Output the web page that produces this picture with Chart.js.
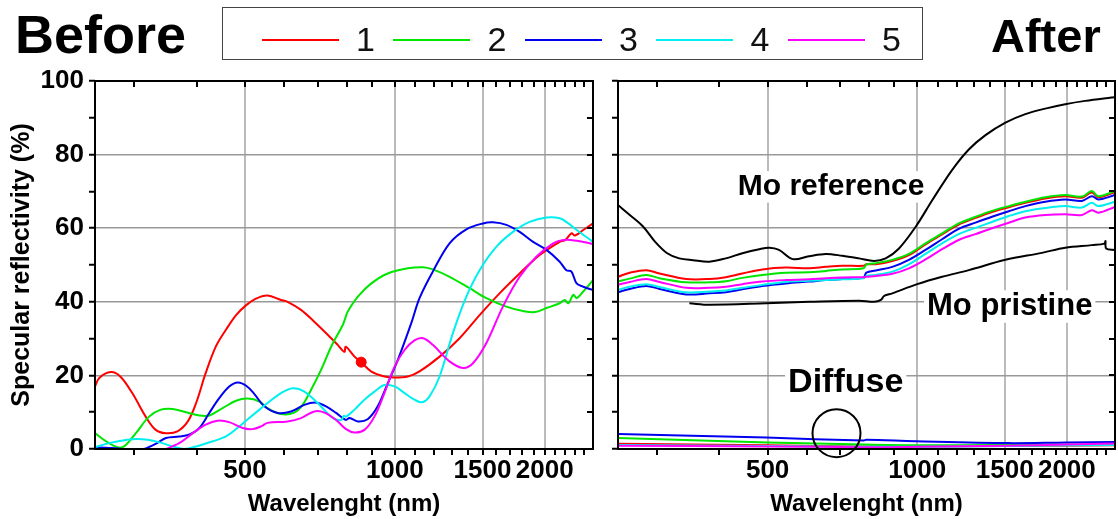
<!DOCTYPE html>
<html>
<head>
<meta charset="utf-8">
<script src="https://cdn.jsdelivr.net/npm/chart.js@4.4.1/dist/chart.umd.min.js"></script>
<style>
  body { margin: 0; background: #fff; }
  #wrap { position: relative; width: 1118px; height: 519px; font-family: "Liberation Sans", Arial, sans-serif; color: #000; }
  canvas { position: absolute; top: 0; }
  .panel-title { position: absolute; font-weight: bold; }
  #legend { position: absolute; left: 222px; top: 7px; width: 701px; height: 53px; box-sizing: border-box; border: 1.5px solid #444; }
  #legend .swatch { position: absolute; top: 31px; width: 77px; height: 2px; }
  #legend .label { position: absolute; top: 14px; width: 30px; text-align: center; font-size: 34px; line-height: 34px; color: #111; }
</style>
</head>
<body>
<div id="wrap">
  <canvas id="before" width="606" height="519" style="left:0"></canvas>
  <canvas id="after" width="512" height="519" style="left:606px"></canvas>
  <div class="panel-title" style="left:15px;top:7px;font-size:54px;line-height:54px">Before</div>
  <div class="panel-title" style="left:991px;top:12px;font-size:47px;line-height:47px">After</div>
  <div id="legend"></div>
</div>
<script>
// sample names and colours
const seriesLabels = ['1', '2', '3', '4', '5'];
const seriesColors = ['#ff0000', '#00e600', '#0000ee', '#00f0f0', '#ff00ff'];

// axis ticks (wavelength in nm, reflectivity in %)
const xTicks = [300, 400, 500, 600, 700, 800, 900, 1000, 1100, 1200, 1300, 1400, 1500, 1600, 1700, 1800, 1900, 2000, 2100, 2200, 2300, 2400];
const xLabelled = [500, 1000, 1500, 2000];
const yTicks = [0, 10, 20, 30, 40, 50, 60, 70, 80, 90, 100];
const yLabelled = [0, 20, 40, 60, 80, 100];

// Before: [wavelength, specular reflectivity]
const before1 = [[250,17.0],[255,19.3],[269,20.9],[281,19.7],[297,15.2],[316,8.8],[331,5.2],[347,4.3],[366,4.8],[384,7.5],[399,12.5],[417,20.6],[437,27.8],[458,32.4],[480,36.4],[503,39.1],[525,40.8],[555,41.7],[591,40.5],[609,40.0],[648,37.8],[689,34.6],[734,31.0],[768,28.3],[792,26.4],[797,27.8],[830,25.1],[856,23.6],[896,21.1],[953,19.7],[999,19.4],[1062,19.7],[1121,21.1],[1230,25.1],[1349,30.1],[1480,36.4],[1623,42.3],[1781,47.7],[1954,52.7],[2143,56.3],[2200,56.8],[2263,58.6],[2300,58.0],[2390,59.5],[2500,61.3]];
const before2 = [[250,4.3],[263,2.1],[277,0.5],[286,0.7],[302,4.3],[321,8.8],[339,10.7],[358,10.9],[381,10.0],[405,9.1],[424,9.1],[451,11.1],[480,13.1],[506,13.7],[535,12.9],[555,11.1],[591,9.5],[628,9.9],[653,12.0],[679,16.1],[711,21.5],[745,27.8],[786,33.7],[795,35.5],[804,37.3],[843,41.4],[897,45.0],[968,47.7],[1062,49.1],[1140,49.4],[1192,48.8],[1288,46.8],[1413,43.7],[1527,41.0],[1675,38.7],[1809,37.5],[1911,37.2],[2016,38.3],[2143,39.6],[2195,40.5],[2231,39.6],[2282,41.9],[2318,41.0],[2390,42.8],[2500,45.9]];
const before3 = [[250,0.5],[267,0.3],[284,0],[300,-0.6],[314,0],[331,1.4],[347,3.0],[369,3.4],[386,3.9],[405,5.7],[424,9.8],[444,13.8],[465,17.0],[484,18.1],[503,17.2],[522,15.0],[547,11.6],[582,9.8],[619,10.2],[658,12.0],[695,12.6],[728,11.6],[762,9.8],[786,8.4],[798,7.9],[811,8.4],[843,7.5],[882,8.1],[924,11.6],[968,17.9],[1014,24.2],[1079,34.2],[1121,41.0],[1192,48.2],[1288,55.9],[1392,59.7],[1503,61.3],[1574,61.6],[1675,60.9],[1781,59.0],[1895,56.3],[2016,54.1],[2143,50.9],[2210,48.6],[2263,48.2],[2318,45.0],[2390,44.1],[2500,43.2]];
const before4 = [[250,0.5],[267,1.6],[284,2.3],[302,2.7],[319,2.5],[337,1.8],[358,0.7],[378,0],[399,0.7],[431,2.1],[458,3.4],[487,6.1],[510,8.4],[535,10.7],[555,12.5],[591,15.2],[624,16.5],[658,15.6],[700,12.5],[745,8.8],[780,7.8],[790,9.0],[798,8.8],[830,10.7],[869,13.4],[910,15.6],[953,17.4],[999,17.0],[1046,15.2],[1095,13.4],[1135,12.7],[1174,14.3],[1230,19.7],[1308,31.5],[1392,41.4],[1480,48.6],[1600,55.0],[1727,59.0],[1865,61.7],[2016,62.9],[2143,62.7],[2231,61.3],[2318,59.5],[2500,56.3]];
const before5 = [[340,-0.5],[369,1.6],[393,4.3],[417,6.6],[441,7.7],[465,7.3],[495,5.7],[518,5.4],[540,6.2],[555,7.1],[609,7.5],[648,8.4],[689,10.2],[722,9.9],[762,7.9],[798,5.4],[830,4.5],[869,5.2],[910,8.8],[953,15.2],[999,22.4],[1046,26.9],[1095,29.5],[1140,30.1],[1192,28.3],[1288,23.8],[1370,22.0],[1435,23.3],[1527,28.8],[1648,38.7],[1781,46.8],[1926,52.3],[2080,55.9],[2180,56.8],[2318,56.6],[2500,55.7]];
const beforeMarker = [[856,23.6]];

// After: specular
const after1 = [[250,46.8],[264,47.9],[285,48.6],[303,47.7],[343,46.2],[382,46.2],[412,46.7],[445,47.7],[488,48.8],[544,49.3],[606,49.1],[655,49.5],[707,49.8],[780,49.8],[790,50.2],[825,50.2],[891,51.1],[962,52.7],[1039,55.6],[1122,58.3],[1212,61.0],[1310,62.8],[1414,64.4],[1528,65.7],[1650,66.9],[1810,68.1],[1985,68.7],[2145,68.3],[2245,69.7],[2315,68.4],[2500,69.8]];
const after2 = [[250,45.5],[264,46.3],[285,47.3],[303,46.4],[343,45.3],[382,45.3],[412,45.6],[445,46.5],[488,47.3],[544,47.9],[606,48.0],[655,48.4],[707,48.8],[780,49.1],[790,50.1],[825,50.5],[891,51.4],[962,53.0],[1039,55.9],[1122,58.6],[1212,61.3],[1310,63.1],[1414,64.7],[1528,66.0],[1650,67.2],[1810,68.4],[1985,69.0],[2145,68.6],[2245,70.1],[2315,68.7],[2500,70.1]];
const after3 = [[250,42.6],[264,43.5],[285,44.3],[303,43.5],[343,42.0],[382,42.3],[412,42.6],[445,43.4],[488,44.3],[544,45.0],[606,45.5],[655,45.9],[707,46.2],[780,46.6],[790,47.9],[825,48.5],[891,49.5],[962,51.4],[1039,54.1],[1122,57.0],[1212,59.8],[1310,61.5],[1414,63.1],[1528,64.6],[1650,66.0],[1810,67.2],[1985,67.8],[2145,67.4],[2245,68.7],[2315,67.8],[2500,69.0]];
const after4 = [[250,43.2],[264,44.1],[285,44.8],[303,44.0],[343,42.6],[382,42.8],[412,43.1],[445,43.8],[488,44.6],[544,45.4],[606,45.7],[655,45.9],[707,46.1],[780,46.4],[790,47.0],[825,47.3],[891,48.2],[962,50.2],[1039,53.0],[1122,55.9],[1212,58.4],[1310,60.1],[1414,61.7],[1528,63.3],[1650,64.6],[1810,65.5],[1985,66.0],[2145,65.6],[2245,66.9],[2315,66.0],[2500,67.2]];
const after5 = [[250,44.6],[264,45.4],[285,46.2],[303,45.4],[343,43.8],[382,43.8],[412,44.1],[445,44.8],[488,45.5],[544,45.9],[606,46.1],[655,46.4],[707,46.6],[780,46.7],[790,46.8],[825,47.0],[891,47.6],[962,49.1],[1039,51.5],[1122,54.3],[1212,56.8],[1310,58.4],[1414,60.0],[1528,61.5],[1650,62.9],[1810,63.6],[1985,63.8],[2145,63.6],[2245,64.9],[2315,64.2],[2500,65.8]];

// After: diffuse
const diffuse1 = [[250,1.4],[500,1.0],[780,0.7],[1000,0.7],[1500,0.8],[2500,1.0]];
const diffuse2 = [[250,3.0],[500,1.8],[780,1.2],[1000,1.0],[1500,1.1],[2500,1.2]];
const diffuse3 = [[250,4.1],[497,3.1],[780,2.3],[790,2.5],[993,2.1],[1528,1.6],[2000,1.8],[2500,1.9]];
const diffuse4 = [[250,1.1],[500,0.8],[780,0.6],[1000,0.6],[1500,0.8],[2500,1.1]];
const diffuse5 = [[250,0.9],[500,0.7],[780,0.5],[1000,0.6],[1500,0.9],[2000,1.2],[2500,1.5]];

// Mo references
const moReference = [[250,66.3],[264,63.6],[281,60.4],[297,56.3],[314,53.2],[332,51.8],[354,51.3],[382,50.9],[412,51.8],[445,53.2],[481,54.3],[504,54.7],[527,54.1],[562,51.6],[606,52.4],[655,53.0],[707,52.5],[764,51.8],[819,51.1],[864,51.8],[919,54.5],[993,60.4],[1072,67.6],[1175,75.8],[1270,81.4],[1372,85.3],[1505,88.7],[1650,91.0],[1810,92.5],[1985,93.7],[2178,94.6],[2460,95.5],[2500,95.6]];
const moPristine = [[348,39.6],[382,39.2],[497,39.6],[606,40.0],[764,40.3],[819,40.0],[845,40.5],[858,41.6],[891,42.3],[1000,44.8],[1122,46.8],[1270,48.6],[1505,51.4],[1782,53.3],[1985,54.7],[2245,55.4],[2380,55.8],[2392,56.5],[2400,54.5],[2500,54.1]];

// annotations of the After panel, placed in data units
const notes = [
  { text: 'Mo reference', at: [671, 69.0], size: 30 },
  { text: 'Mo pristine', at: [1535, 36.4], size: 31 },
  { text: 'Diffuse', at: [718, 15.5], size: 34 },
];
const ring = { at: [688, 4.3], radius: 24 };

const FONT = '"Liberation Sans", Arial, sans-serif';
Chart.defaults.font.family = FONT;
Chart.defaults.color = '#000';

const pts = arr => arr.map(([x, y]) => ({ x, y }));

const line = (data, color, i) => ({
  data: pts(data),
  borderColor: color,
  backgroundColor: color,
  borderWidth: 2,
  pointRadius: 0,
  tension: 0.35,
  order: -i,
});

// legend, shared by both panels
const legend = document.getElementById('legend');
seriesLabels.forEach((lab, i) => {
  const left = 38.5 + i * 131.5;
  const sw = document.createElement('div');
  sw.className = 'swatch';
  sw.style.left = left + 'px';
  sw.style.background = seriesColors[i];
  const tx = document.createElement('div');
  tx.className = 'label';
  tx.style.left = (left + 77 + 12) + 'px';
  tx.textContent = lab;
  legend.appendChild(sw);
  legend.appendChild(tx);
});

// box around the plot, with inward ticks on top and right
const frame = {
  id: 'frame',
  afterDraw(chart) {
    const { ctx, chartArea: a, scales: { x, y } } = chart;
    ctx.save();
    ctx.strokeStyle = '#000';
    ctx.lineWidth = 2;
    ctx.beginPath();
    x.ticks.forEach(t => {
      const px = Math.round(x.getPixelForValue(t.value));
      ctx.moveTo(px, a.top);
      ctx.lineTo(px, a.top + 6);
    });
    y.ticks.forEach(t => {
      const py = Math.round(y.getPixelForValue(t.value));
      ctx.moveTo(a.right, py);
      ctx.lineTo(a.right - 6, py);
    });
    ctx.stroke();
    ctx.strokeRect(a.left, a.top, a.right - a.left, a.bottom - a.top);
    ctx.restore();
  }
};

const annotate = {
  id: 'annotate',
  beforeDatasetsDraw(chart) {
    const { ctx, scales: { x, y } } = chart;
    ctx.save();
    notes.forEach(n => {
      ctx.font = `bold ${n.size}px ${FONT}`;
      ctx.textAlign = 'center';
      ctx.textBaseline = 'alphabetic';
      const px = x.getPixelForValue(n.at[0]);
      const py = y.getPixelForValue(n.at[1]);
      const w = ctx.measureText(n.text).width;
      ctx.fillStyle = '#fff';
      ctx.fillRect(px - w / 2 - 3, py - n.size * 0.8, w + 6, n.size * 1.05);
      ctx.fillStyle = '#000';
      ctx.fillText(n.text, px, py);
    });
    ctx.restore();
  },
  afterDatasetsDraw(chart) {
    const { ctx, scales: { x, y } } = chart;
    ctx.save();
    ctx.strokeStyle = '#000';
    ctx.lineWidth = 2;
    ctx.beginPath();
    ctx.arc(x.getPixelForValue(ring.at[0]), y.getPixelForValue(ring.at[1]), ring.radius, 0, Math.PI * 2);
    ctx.stroke();
    ctx.restore();
  }
};

function scales(showYLabels, yWidth) {
  return {
    x: {
      type: 'logarithmic',
      min: 250,
      max: 2500,
      afterBuildTicks: s => { s.ticks = xTicks.map(v => ({ value: v })); },
      afterFit: s => { s.height = 70; },
      border: { display: false },
      grid: {
        color: c => (c.tick && xLabelled.includes(c.tick.value)) ? '#bbbbbb' : 'rgba(0,0,0,0)',
        lineWidth: 2,
        tickColor: '#000',
        tickLength: 6,
        tickWidth: 2,
      },
      ticks: {
        autoSkip: false,
        maxRotation: 0,
        padding: 0,
        font: { size: 26, weight: 'bold' },
        callback: v => xLabelled.includes(v) ? String(v) : '',
      },
      title: {
        display: true,
        text: 'Wavelenght (nm)',
        font: { size: 24, weight: 'bold', lineHeight: 1.2 },
        padding: { top: 0, bottom: 0 },
      },
    },
    y: {
      min: 0,
      max: 100,
      afterBuildTicks: s => { s.ticks = yTicks.map(v => ({ value: v })); },
      afterFit: s => { s.width = yWidth; },
      border: { display: false },
      grid: {
        color: c => (c.tick && c.tick.value > 0 && c.tick.value < 100 && yLabelled.includes(c.tick.value)) ? '#999999' : 'rgba(0,0,0,0)',
        lineWidth: 1.5,
        tickColor: '#000',
        tickLength: 6,
        tickWidth: 2,
      },
      ticks: {
        display: showYLabels,
        padding: 5,
        font: { size: 26, weight: 'bold' },
        callback: v => yLabelled.includes(v) ? String(v) : '',
      },
      title: {
        display: showYLabels,
        text: 'Specular reflectivity (%)',
        font: { size: 25, weight: 'bold', lineHeight: 1.2 },
        padding: { top: 7, bottom: 0 },
      },
    },
  };
}

const common = {
  responsive: false,
  animation: false,
  devicePixelRatio: 1,
  plugins: { legend: { display: false }, tooltip: { enabled: false } },
};

const beforeSets = [before1, before2, before3, before4, before5].map((d, i) => line(d, seriesColors[i], i));
beforeSets.push({
  data: pts(beforeMarker),
  showLine: false,
  pointRadius: 5,
  pointBackgroundColor: seriesColors[0],
  pointBorderColor: seriesColors[0],
  order: -10,
});

new Chart(document.getElementById('before'), {
  type: 'line',
  data: { datasets: beforeSets },
  options: {
    ...common,
    layout: { padding: { top: 81, right: 13, left: 0, bottom: 0 } },
    scales: scales(true, 95),
  },
  plugins: [frame],
});

const afterSets = [
  line(moReference, '#000', 0),
  line(moPristine, '#000', 1),
  ...[after1, after2, after3, after4, after5].map((d, i) => line(d, seriesColors[i], 2 + i)),
  ...[diffuse1, diffuse2, diffuse3, diffuse4, diffuse5].map((d, i) => line(d, seriesColors[i], 7 + i)),
];

new Chart(document.getElementById('after'), {
  type: 'line',
  data: { datasets: afterSets },
  options: {
    ...common,
    layout: { padding: { top: 81, right: 3, left: 0, bottom: 0 } },
    scales: scales(false, 12),
  },
  plugins: [frame, annotate],
});
</script>
</body>
</html>
